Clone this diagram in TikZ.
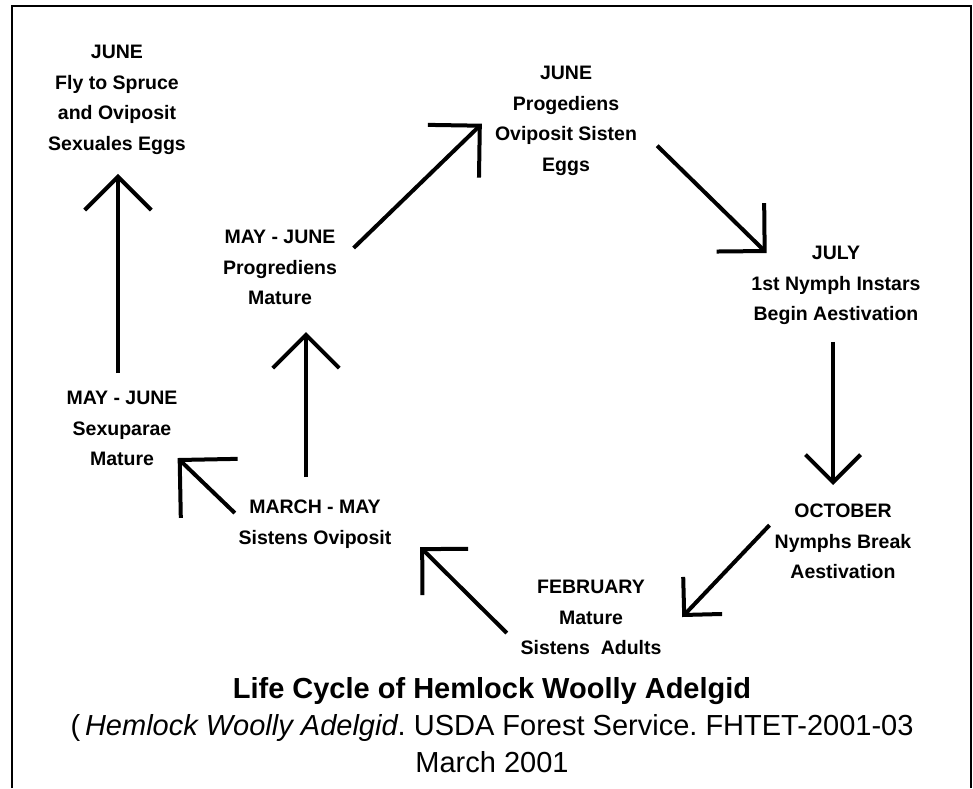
\documentclass[tikz,border=0pt]{standalone}
\usepackage{fontspec}
\setmainfont{Liberation Sans}
\usetikzlibrary{arrows.meta}
\frenchspacing
\begin{document}
\begin{tikzpicture}[x=1pt,y=-1pt,
    stage/.style={anchor=north,inner sep=0pt,align=center,
      font=\bfseries\fontsize{19.5}{30.5}\selectfont},
    cycle arrow/.style={line width=4pt,-{Straight Barb[angle=90:#1]}}]
  \useasboundingbox (0,0) rectangle (973,788);
  \draw[line width=2pt] (12,788) -- (12,6) -- (971,6) -- (971,788);
  \path
    (315,500) node[stage] (0) {MARCH - MAY\\Sistens Oviposit}
    (280,230) node[stage] (1) {MAY - JUNE\\Progrediens\\Mature}
    (566,66) node[stage] (2) {JUNE\\Progediens\\Oviposit Sisten\\Eggs}
    (836,246) node[stage] (3) {JULY\\1st Nymph Instars\\Begin Aestivation}
    (843,504) node[stage] (4) {OCTOBER\\Nymphs Break\\Aestivation}
    (591,580) node[stage] (5) {FEBRUARY\\Mature\\Sistens\ \ Adults}
    (122,391) node[stage] (6) {MAY - JUNE\\Sexuparae\\Mature}
    (117,45) node[stage] (7) {JUNE\\Fly to Spruce\\and Oviposit\\Sexuales Eggs};
  \path (492,677.6) node[anchor=north,inner sep=0pt,align=center,
      font=\fontsize{29}{37}\selectfont] (title)
    {\textbf{Life Cycle of Hemlock Woolly Adelgid}\\
     (\,\textit{Hemlock Woolly Adelgid}. USDA Forest Service. FHTET-2001-03\\
     March 2001};
  \begin{scope}
    \draw[cycle arrow=47pt] ([shift={(-4,-18)}]6.north) to ([shift={(1,19.5)}]7.south);
    \draw[cycle arrow=47pt] ([shift={(-9,-23)}]0.north) to ([shift={(26,27)}]1.south);
    \draw[cycle arrow=52pt] ([shift={(16.5,18)}]1.north east) to ([shift={(-13,3)}]2.west);
    \draw[cycle arrow=48pt] ([shift={(20,25)}]2.east) to ([shift={(15.4,7)}]3.north west);
    \draw[cycle arrow=39pt] ([shift={(-3,17)}]3.south) to ([shift={(-10,-19)}]4.north);
    \draw[cycle arrow=38pt] ([shift={(-5,-16.5)}]4.west) to ([shift={(20.6,-0.5)}]5.east);
    \draw[cycle arrow=46pt] ([shift={(-13.6,15.5)}]5.west) to ([shift={(28.6,-1.5)}]0.south east);
    \draw[cycle arrow=58pt] ([shift={(-3.6,13)}]0.north west) to ([shift={(0,-8)}]6.south east);
  \end{scope}
\end{tikzpicture}
\end{document}
